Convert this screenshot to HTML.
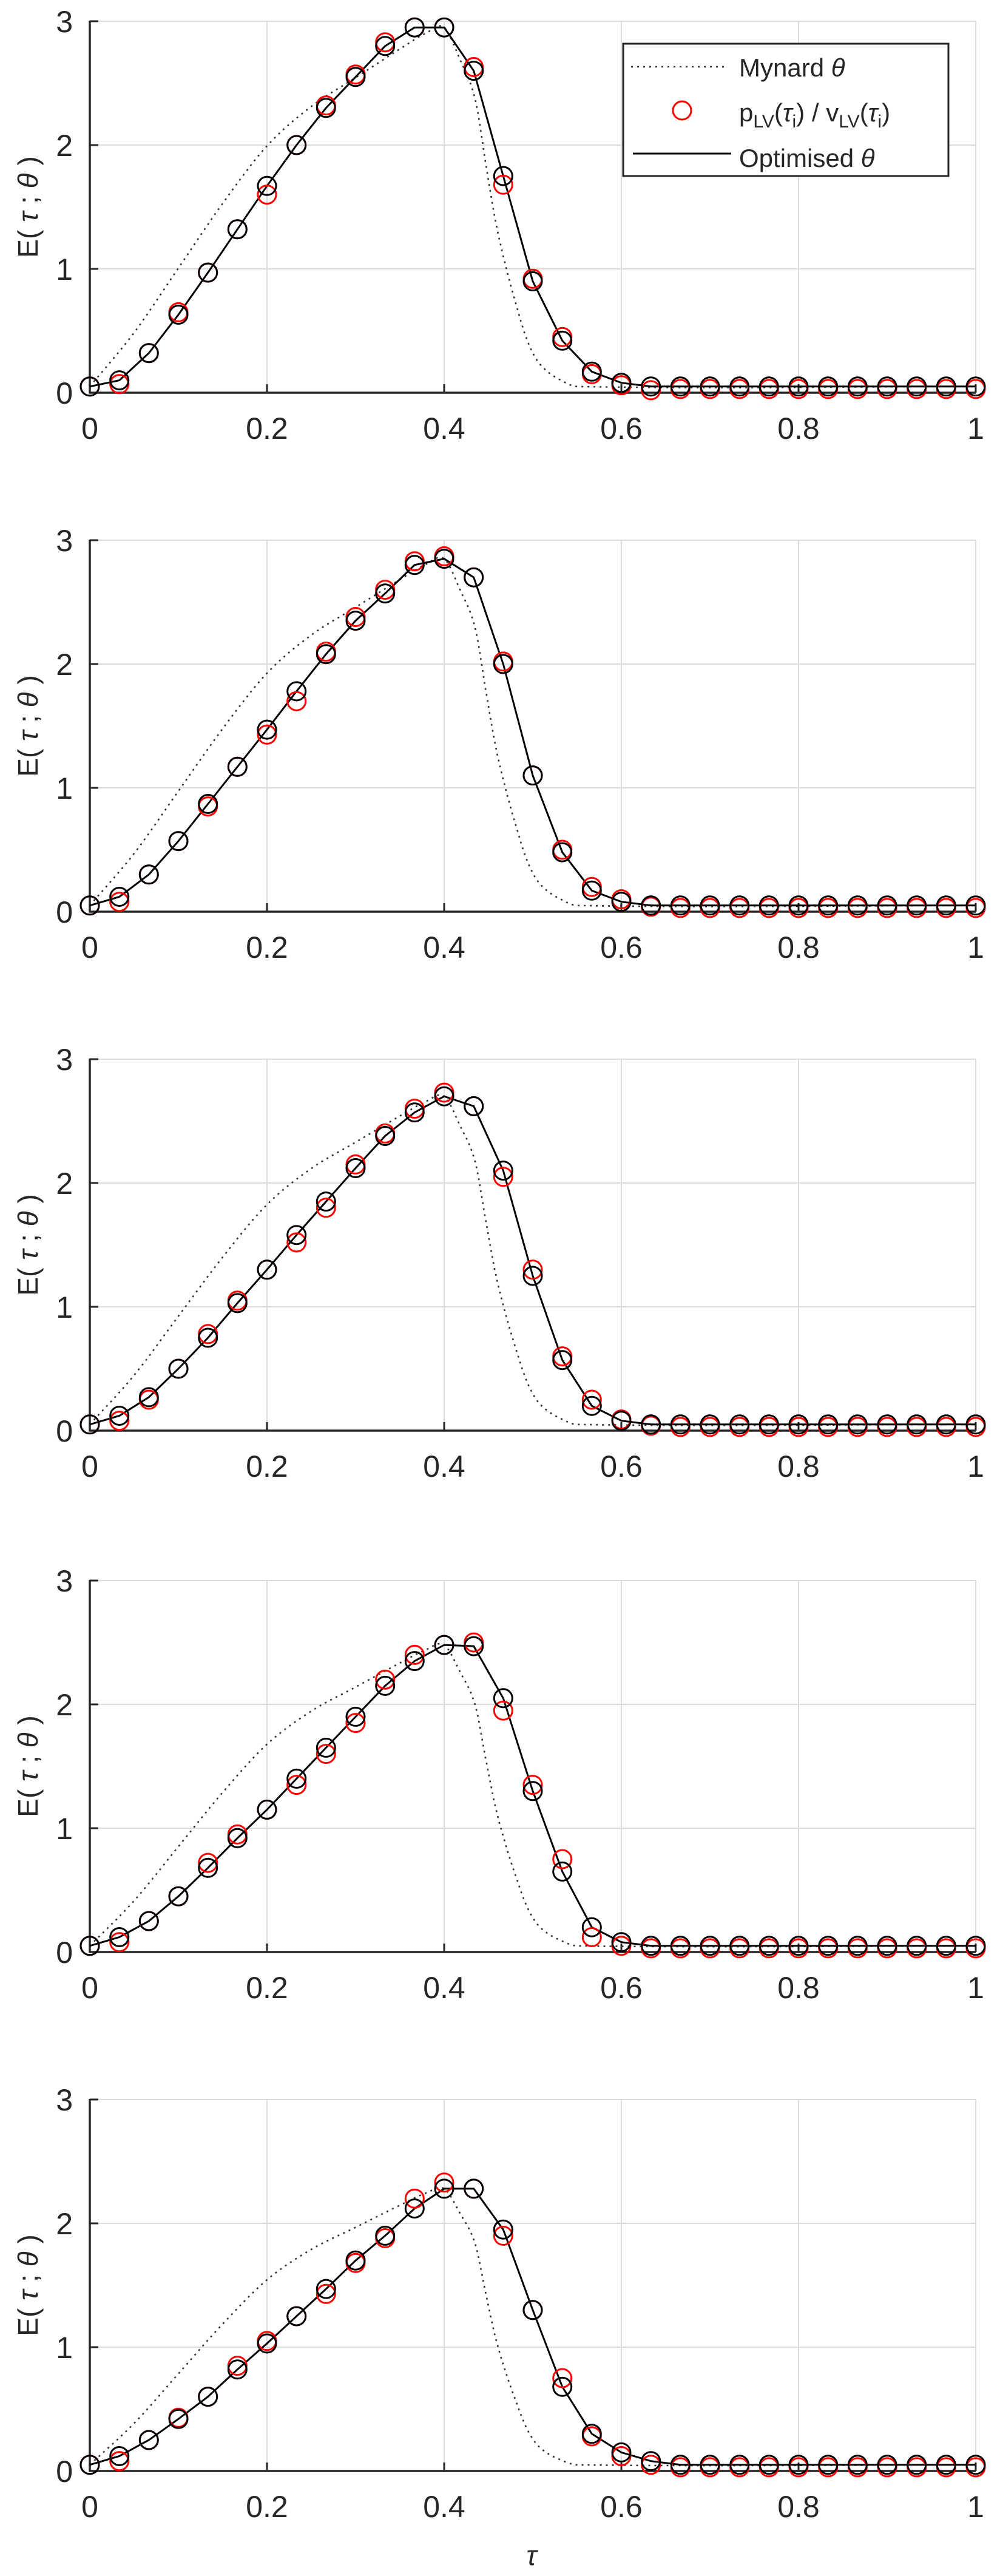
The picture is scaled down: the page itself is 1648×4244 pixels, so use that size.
<!DOCTYPE html>
<html><head><meta charset="utf-8"><style>
html,body{margin:0;padding:0;background:#fff;}
svg{display:block;}
text{font-family:"Liberation Sans",sans-serif;fill:#262626;}
</style></head><body>
<svg id="s" width="1648" height="4244" xmlns="http://www.w3.org/2000/svg"></svg>
<script>
var S=document.getElementById('s');var h='';
var X0=148,X1=1608,H=612;
var tops=[35,890,1745,2604,3459];
var peaks=[2.95,2.85,2.7,2.48,2.28];
var B=[
[0.05,0.10,0.32,0.63,0.97,1.32,1.67,2.0,2.3,2.55,2.8,2.95,2.95,2.6,1.75,0.9,0.42,0.17,0.08,0.05],
[0.05,0.12,0.3,0.57,0.87,1.17,1.47,1.78,2.08,2.35,2.57,2.8,2.85,2.7,2.0,1.1,0.48,0.17,0.08,0.05],
[0.05,0.12,0.27,0.5,0.75,1.03,1.3,1.58,1.85,2.12,2.38,2.57,2.7,2.62,2.1,1.25,0.57,0.2,0.08,0.05],
[0.05,0.12,0.25,0.45,0.68,0.92,1.15,1.4,1.65,1.9,2.15,2.35,2.48,2.47,2.05,1.3,0.65,0.2,0.08,0.05],
[0.05,0.12,0.25,0.42,0.6,0.82,1.03,1.25,1.47,1.7,1.9,2.12,2.28,2.28,1.95,1.3,0.68,0.3,0.15,0.08,0.05]];
var R=[
[0.05,0.07,0.32,0.65,0.97,1.32,1.6,2.0,2.32,2.57,2.83,2.95,2.95,2.63,1.68,0.92,0.45,0.15,0.06,0.02,0.03],
[0.05,0.08,0.3,0.57,0.85,1.17,1.43,1.7,2.1,2.38,2.6,2.83,2.87,2.7,2.02,1.1,0.5,0.2,0.1,0.04,0.03],
[0.05,0.08,0.25,0.5,0.78,1.05,1.3,1.52,1.8,2.15,2.4,2.6,2.73,2.62,2.05,1.3,0.6,0.25,0.09,0.04,0.03],
[0.05,0.08,0.25,0.45,0.72,0.95,1.15,1.35,1.6,1.85,2.2,2.4,2.48,2.5,1.95,1.35,0.75,0.12,0.05,0.03,0.03],
[0.05,0.08,0.25,0.43,0.6,0.85,1.05,1.25,1.43,1.68,1.88,2.2,2.33,2.28,1.9,1.3,0.75,0.28,0.12,0.05,0.03]];
var G=[[0,0.0],[0.05,0.15],[0.1,0.33],[0.15,0.51],[0.2,0.67],[0.25,0.78],[0.3,0.86],[0.35,0.94],[0.38,0.985],[0.4,1.0],[0.418,0.91],[0.435,0.8],[0.447,0.62],[0.458,0.46],[0.47,0.33],[0.481,0.23],[0.492,0.14],[0.503,0.08],[0.515,0.045],[0.53,0.02],[0.55,0.0],[1,0]];
function gi(t){for(var i=0;i<G.length-1;i++){if(t<=G[i+1][0]){var a=G[i],b=G[i+1];var p0=G[Math.max(0,i-1)],p3=G[Math.min(G.length-1,i+2)];var u=(t-a[0])/(b[0]-a[0]);
var m1=(b[1]-p0[1])/(b[0]-p0[0])*(b[0]-a[0]),m2=(p3[1]-a[1])/(p3[0]-a[0])*(b[0]-a[0]);
var u2=u*u,u3=u2*u;return (2*u3-3*u2+1)*a[1]+(u3-2*u2+u)*m1+(-2*u3+3*u2)*b[1]+(u3-u2)*m2;}}return 0;}
function px(t){return X0+(X1-X0)*t;}
for(var k=0;k<5;k++){
 var T=tops[k],Y0=T+H;function py(v){return Y0-v/3*H;}
 // grid
 for(var i=0;i<=5;i++){var x=px(i*0.2);h+='<line x1="'+x+'" y1="'+T+'" x2="'+x+'" y2="'+Y0+'" stroke="#dcdcdc" stroke-width="2"/>';}
 for(var j=1;j<=3;j++){var y=py(j);h+='<line x1="'+X0+'" y1="'+y+'" x2="'+X1+'" y2="'+y+'" stroke="#dcdcdc" stroke-width="2"/>';}
 // axes
 h+='<line x1="'+X0+'" y1="'+(T-1)+'" x2="'+X0+'" y2="'+(Y0+1.5)+'" stroke="#262626" stroke-width="3.5"/>';
 h+='<line x1="'+X0+'" y1="'+Y0+'" x2="'+X1+'" y2="'+Y0+'" stroke="#262626" stroke-width="3.5"/>';
 for(var i=0;i<=5;i++){var x=px(i*0.2);h+='<line x1="'+x+'" y1="'+Y0+'" x2="'+x+'" y2="'+(Y0-14)+'" stroke="#262626" stroke-width="3"/>';
  h+='<text x="'+x+'" y="'+(Y0+76)+'" font-size="50" text-anchor="middle">'+(i==0?'0':i==5?'1':(i*0.2).toFixed(1))+'</text>';}
 for(var j=0;j<=3;j++){var y=py(j);h+='<line x1="'+X0+'" y1="'+y+'" x2="'+(X0+14)+'" y2="'+y+'" stroke="#262626" stroke-width="3"/>';
  h+='<text x="'+(X0-28)+'" y="'+(y+18)+'" font-size="50" text-anchor="end">'+j+'</text>';}
 h+='<text transform="translate(62,'+(T+H/2)+') rotate(-90)" font-size="46" text-anchor="middle">E( <tspan font-style="italic">τ</tspan> ; <tspan font-style="italic">θ</tspan> )</text>';
 // mynard
 var d='',pk=peaks[k];for(var n=0;n<=600;n++){var t=n/600;var v=0.05+(pk-0.05)*gi(t);d+=(n?'L':'M')+px(t).toFixed(1)+' '+py(v).toFixed(1);}
 h+='<path d="'+d+'" fill="none" stroke="#333" stroke-width="2.6" stroke-dasharray="3,7"/>';
 // values
 var b=B[k].slice();while(b.length<31)b.push(0.05);var r=R[k].slice();while(r.length<31)r.push(0.03);
 d='';for(var n=0;n<31;n++){d+=(n?'L':'M')+px(n/30).toFixed(1)+' '+py(b[n]).toFixed(1);}
 h+='<path d="'+d+'" fill="none" stroke="#000" stroke-width="3"/>';
 for(var n=0;n<31;n++)h+='<circle cx="'+px(n/30).toFixed(1)+'" cy="'+py(r[n]).toFixed(1)+'" r="15" fill="none" stroke="#ff0000" stroke-width="3"/>';
 for(var n=0;n<31;n++)h+='<circle cx="'+px(n/30).toFixed(1)+'" cy="'+py(b[n]).toFixed(1)+'" r="15" fill="none" stroke="#000" stroke-width="3"/>';
}
// legend
h+='<rect x="1027" y="72" width="536" height="218" fill="#fff" stroke="#262626" stroke-width="3"/>';
h+='<line x1="1040" y1="110" x2="1196" y2="110" stroke="#333" stroke-width="2.6" stroke-dasharray="3,7"/>';
h+='<text x="1218" y="126" font-size="42">Mynard <tspan font-style="italic">θ</tspan></text>';
h+='<circle cx="1124" cy="182" r="15" fill="none" stroke="#ff0000" stroke-width="3"/>';
h+='<text x="1218" y="200" font-size="42">p<tspan font-size="30" dy="10">LV</tspan><tspan dy="-10">(</tspan><tspan font-style="italic">τ</tspan><tspan font-size="30" dy="10">i</tspan><tspan dy="-10">) / v</tspan><tspan font-size="30" dy="10">LV</tspan><tspan dy="-10">(</tspan><tspan font-style="italic">τ</tspan><tspan font-size="30" dy="10">i</tspan><tspan dy="-10">)</tspan></text>';
h+='<line x1="1043" y1="253" x2="1205" y2="253" stroke="#000" stroke-width="3"/>';
h+='<text x="1218" y="275" font-size="42">Optimised <tspan font-style="italic">θ</tspan></text>';
h+='<text x="876" y="4226" font-size="46" font-style="italic" text-anchor="middle">τ</text>';
S.innerHTML=h;
</script>
</body></html>
